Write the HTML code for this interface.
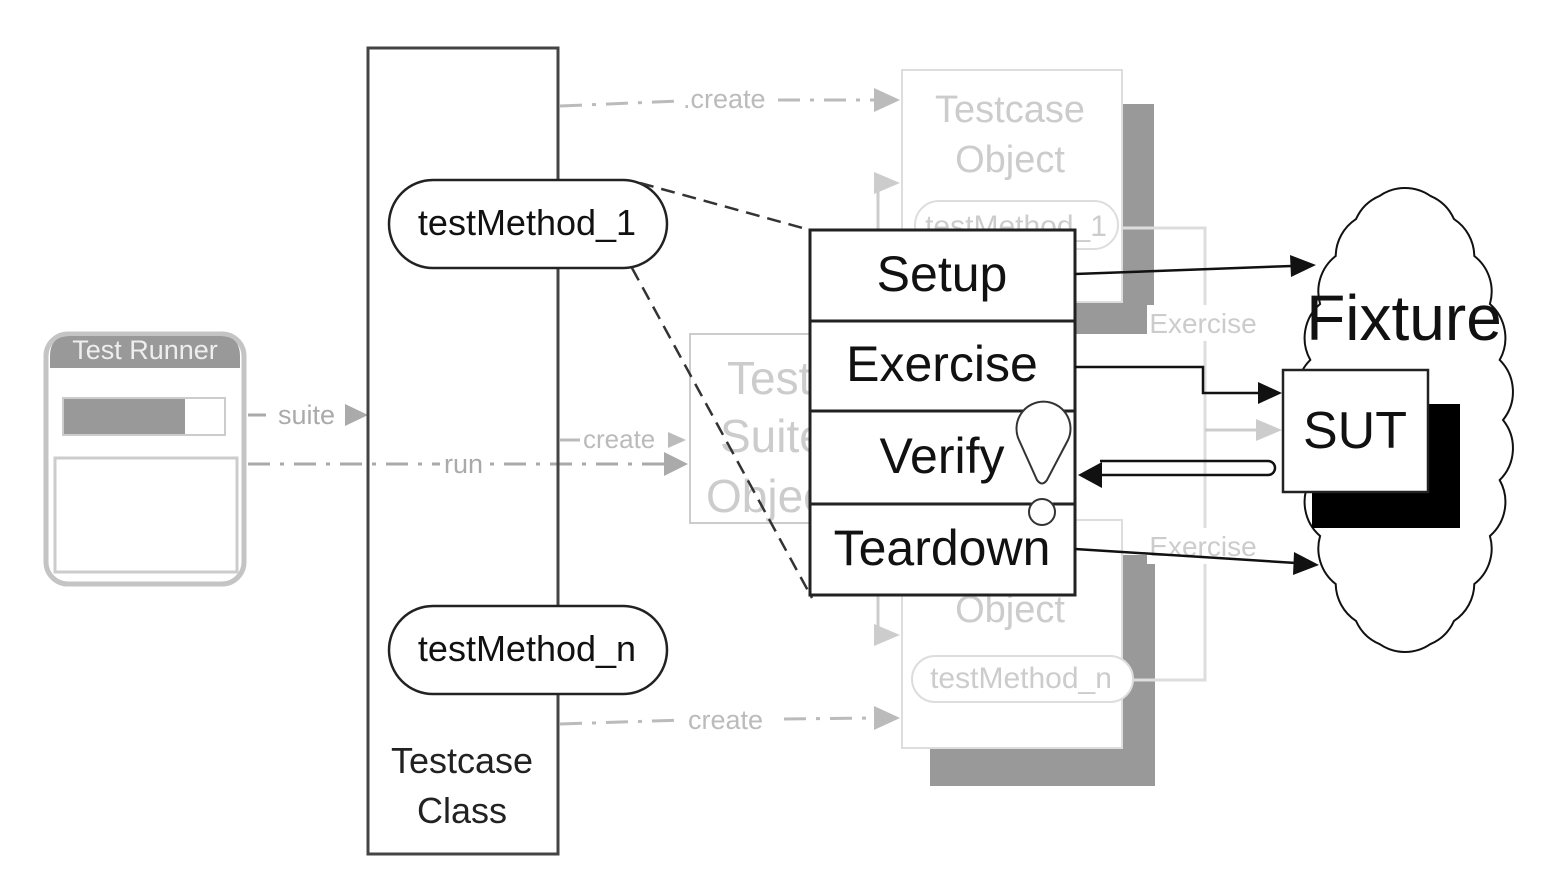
<!DOCTYPE html>
<html><head><meta charset="utf-8"><style>html,body{margin:0;padding:0;background:#fff}svg{display:block}</style></head>
<body>
<svg width="1552" height="870" viewBox="0 0 1552 870" xmlns="http://www.w3.org/2000/svg" font-family="Liberation Sans, sans-serif">
<rect width="1552" height="870" fill="#fff"/>
<!-- Test Runner -->
<rect x="46" y="334" width="198" height="250" rx="22" fill="#fff" stroke="#c4c4c4" stroke-width="5"/>
<path d="M50,368 L50,356 Q50,336 70,336 L220,336 Q240,336 240,356 L240,368 Z" fill="#999"/>
<text x="145" y="359" font-size="27" fill="#eee" text-anchor="middle">Test Runner</text>
<rect x="63" y="398" width="162" height="37" fill="#fff" stroke="#ccc" stroke-width="2"/>
<rect x="64" y="399" width="121" height="35" fill="#999"/>
<rect x="55" y="458" width="182" height="114" fill="#fff" stroke="#ccc" stroke-width="3"/>
<!-- suite / run -->
<line x1="248" y1="415" x2="266" y2="415" stroke="#aaa" stroke-width="3"/>
<text x="278" y="424" font-size="27" fill="#aaa">suite</text>
<path d="M345,404 L368,415 L345,426 Z" fill="#aaa"/>
<line x1="248" y1="464" x2="440" y2="464" stroke="#aaa" stroke-width="3" stroke-dasharray="22,10,4,10"/>
<text x="444" y="473" font-size="27" fill="#aaa">run</text>
<line x1="490" y1="464" x2="668" y2="464" stroke="#aaa" stroke-width="3" stroke-dasharray="4,10,22,10"/>
<path d="M664,452 L688,464 L664,476 Z" fill="#aaa"/>
<!-- Test Suite Object -->
<rect x="690" y="334" width="140" height="189" fill="#fff" stroke="#ccc" stroke-width="2"/>
<text x="727" y="394" font-size="46" fill="#ccc">Test</text>
<text x="720" y="452" font-size="46" fill="#ccc">Suite</text>
<text x="706" y="512" font-size="46" fill="#ccc">Objec</text>
<line x1="560" y1="440" x2="580" y2="440" stroke="#bbb" stroke-width="3"/>
<text x="583" y="448" font-size="26" fill="#bbb">create</text>
<path d="M668,432 L686,440 L668,448 Z" fill="#bbb"/>
<!-- create lines -->
<line x1="560" y1="106" x2="680" y2="101" stroke="#bbb" stroke-width="3" stroke-dasharray="22,10,4,10"/>
<text x="683" y="108" font-size="27" fill="#bbb">.create</text>
<line x1="778" y1="100" x2="876" y2="100" stroke="#bbb" stroke-width="3" stroke-dasharray="22,10,4,10"/>
<path d="M874,88 L900,100 L874,112 Z" fill="#bbb"/>
<line x1="560" y1="724" x2="684" y2="720" stroke="#bbb" stroke-width="3" stroke-dasharray="22,10,4,10"/>
<text x="688" y="729" font-size="27" fill="#bbb">create</text>
<line x1="784" y1="719" x2="876" y2="718" stroke="#bbb" stroke-width="3" stroke-dasharray="22,10,4,10"/>
<path d="M874,706 L900,718 L874,730 Z" fill="#bbb"/>
<!-- top testcase object -->
<rect x="1122" y="104" width="32" height="230" fill="#999"/>
<rect x="1070" y="300" width="84" height="34" fill="#999"/>
<rect x="902" y="70" width="220" height="232" fill="#fff" stroke="#ddd" stroke-width="2"/>
<text x="1010" y="122" font-size="38" fill="#ccc" text-anchor="middle">Testcase</text>
<text x="1010" y="172" font-size="38" fill="#ccc" text-anchor="middle">Object</text>
<rect x="915" y="201" width="203" height="48" rx="24" fill="#fff" stroke="#ddd" stroke-width="2"/>
<text x="1016" y="236" font-size="30" fill="#ccc" text-anchor="middle">testMethod_1</text>
<line x1="878" y1="183" x2="878" y2="232" stroke="#ccc" stroke-width="3"/>
<path d="M874,172 L900,183 L874,194 Z" fill="#ccc"/>
<!-- bottom testcase object -->
<rect x="930" y="748" width="225" height="38" fill="#999"/>
<rect x="1122" y="555" width="33" height="231" fill="#999"/>
<rect x="902" y="520" width="220" height="228" fill="#fff" stroke="#ddd" stroke-width="2"/>
<text x="1010" y="622" font-size="38" fill="#ccc" text-anchor="middle">Object</text>
<rect x="912" y="656" width="221" height="46" rx="23" fill="#fff" stroke="#ddd" stroke-width="2"/>
<text x="1021" y="688" font-size="30" fill="#ccc" text-anchor="middle">testMethod_n</text>
<line x1="878" y1="595" x2="878" y2="635" stroke="#ccc" stroke-width="3"/>
<path d="M874,624 L900,635 L874,646 Z" fill="#ccc"/>
<!-- right gray brackets -->
<polyline points="1122,228 1205,228 1205,680 1133,680" fill="none" stroke="#ddd" stroke-width="3"/>
<rect x="1147" y="305" width="115" height="36" fill="#fff"/>
<text x="1203" y="333" font-size="28" fill="#ccc" text-anchor="middle">Exercise</text>
<rect x="1147" y="528" width="115" height="36" fill="#fff"/>
<text x="1203" y="556" font-size="28" fill="#ccc" text-anchor="middle">Exercise</text>
<line x1="1205" y1="430" x2="1260" y2="430" stroke="#ccc" stroke-width="3"/>
<path d="M1256,419 L1282,430 L1256,441 Z" fill="#ccc"/>
<!-- Testcase Class -->
<rect x="368" y="48" width="190" height="806" fill="none" stroke="#444" stroke-width="3"/>
<text x="462" y="773" font-size="36" fill="#222" text-anchor="middle">Testcase</text>
<text x="462" y="823" font-size="36" fill="#222" text-anchor="middle">Class</text>
<rect x="389" y="180" width="278" height="88" rx="44" fill="#fff" stroke="#222" stroke-width="2.5"/>
<text x="527" y="235" font-size="36" fill="#111" text-anchor="middle">testMethod_1</text>
<rect x="389" y="606" width="278" height="88" rx="44" fill="#fff" stroke="#222" stroke-width="2.5"/>
<text x="527" y="661" font-size="36" fill="#111" text-anchor="middle">testMethod_n</text>
<!-- dashed -->
<line x1="640" y1="183" x2="810" y2="230" stroke="#333" stroke-width="2.5" stroke-dasharray="14,8"/>
<line x1="632" y1="268" x2="812" y2="598" stroke="#333" stroke-width="2.5" stroke-dasharray="14,8"/>
<!-- Fixture cloud -->
<path d="M1503,420 A45,45 0 0 1 1499.7,480.1 A45,45 0 0 1 1489.9,536 A45,45 0 0 1 1474.3,584 A45,45 0 0 1 1454,620.9 A45,45 0 0 1 1430.4,644.1 A45,45 0 0 1 1405,652 A45,45 0 0 1 1379.6,644.1 A45,45 0 0 1 1356,620.9 A45,45 0 0 1 1335.7,584 A45,45 0 0 1 1320.1,536 A45,45 0 0 1 1310.3,480.1 A45,45 0 0 1 1307,420 A45,45 0 0 1 1310.3,359.9 A45,45 0 0 1 1320.1,304 A45,45 0 0 1 1335.7,256 A45,45 0 0 1 1356,219.1 A45,45 0 0 1 1379.6,195.9 A45,45 0 0 1 1405,188 A45,45 0 0 1 1430.4,195.9 A45,45 0 0 1 1454,219.1 A45,45 0 0 1 1474.3,256 A45,45 0 0 1 1489.9,304 A45,45 0 0 1 1499.7,359.9 A45,45 0 0 1 1503,420 Z" fill="#fff" stroke="#111" stroke-width="2"/>
<text x="1404" y="340" font-size="64" fill="#111" text-anchor="middle">Fixture</text>
<rect x="1312" y="404" width="148" height="124" fill="#000"/>
<rect x="1283" y="370" width="145" height="122" fill="#fff" stroke="#222" stroke-width="2.5"/>
<text x="1355" y="448" font-size="52" fill="#111" text-anchor="middle">SUT</text>
<!-- main phases box -->
<rect x="810" y="230" width="265" height="365" fill="#fff" stroke="#222" stroke-width="3"/>
<line x1="810" y1="321" x2="1075" y2="321" stroke="#222" stroke-width="3"/>
<line x1="810" y1="411" x2="1075" y2="411" stroke="#222" stroke-width="3"/>
<line x1="810" y1="504" x2="1075" y2="504" stroke="#222" stroke-width="3"/>
<text x="942" y="291" font-size="50" fill="#111" text-anchor="middle">Setup</text>
<text x="942" y="381" font-size="50" fill="#111" text-anchor="middle">Exercise</text>
<text x="942" y="473" font-size="50" fill="#111" text-anchor="middle">Verify</text>
<text x="942" y="565" font-size="50" fill="#111" text-anchor="middle">Teardown</text>
<path d="M1019,440 A27,27 0 1 1 1068,440 L1047,480 Q1042,487 1037,480 Z" fill="#fff" stroke="#333" stroke-width="2"/>
<circle cx="1042" cy="512" r="13" fill="#fff" stroke="#333" stroke-width="2"/>
<!-- arrows -->
<line x1="1075" y1="274" x2="1292" y2="266" stroke="#111" stroke-width="2.5"/>
<path d="M1290,255 L1316,265 L1291,277 Z" fill="#111"/>
<polyline points="1075,367 1203,367 1203,393 1260,393" fill="none" stroke="#111" stroke-width="2.5"/>
<path d="M1258,382 L1282,393 L1258,404 Z" fill="#111"/>
<path d="M1100,461 L1268,461 A7,7 0 0 1 1268,475 L1100,475" fill="none" stroke="#111" stroke-width="2.5"/>
<path d="M1102,462 L1078,475 L1102,488 Z" fill="#111"/>
<line x1="1075" y1="549" x2="1296" y2="563" stroke="#111" stroke-width="2.5"/>
<path d="M1294,552 L1319,565 L1293,575 Z" fill="#111"/>
</svg>
</body></html>
